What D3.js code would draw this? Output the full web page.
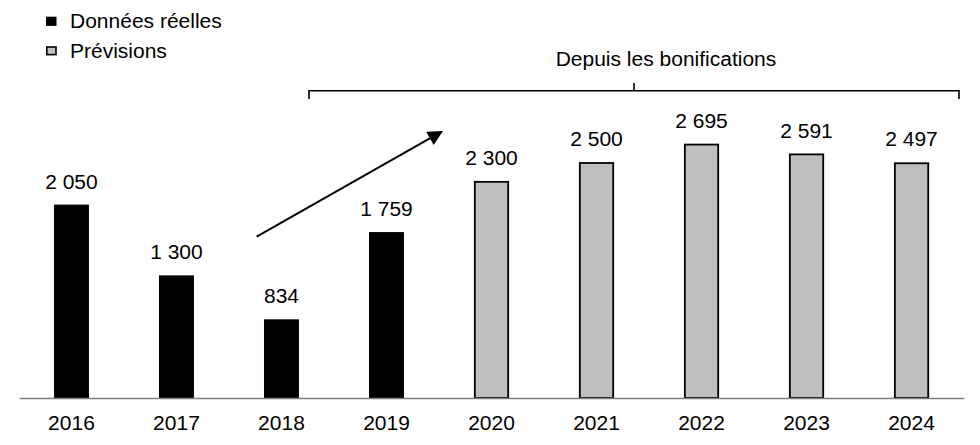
<!DOCTYPE html>
<html>
<head>
<meta charset="utf-8">
<script src="https://cdn.jsdelivr.net/npm/d3@7"></script>
<style>
  html, body { margin: 0; padding: 0; background: #fff; }
  svg text { font-family: "Liberation Sans", Arial, sans-serif; fill: #000; }
</style>
</head>
<body>
<svg id="chart" width="980" height="445"></svg>
<script>
const years = ["2016", "2017", "2018", "2019", "2020", "2021", "2022", "2023", "2024"];
const values = [2050, 1300, 834, 1759, 2300, 2500, 2695, 2591, 2497];
const kinds = ["actual", "actual", "actual", "actual", "forecast", "forecast", "forecast", "forecast", "forecast"];
const valueLabels = ["2 050", "1 300", "834", "1 759", "2 300", "2 500", "2 695", "2 591", "2 497"];
const legendLabels = ["Données réelles", "Prévisions"];
const bracketLabel = "Depuis les bonifications";

const data = years.map((y, i) => ({ year: y, value: values[i], kind: kinds[i], label: valueLabels[i] }));

const svg = d3.select("#chart");
const fontSize = 20;
const stretch = 1.05;

function widen(sel) {
  sel.each(function () {
    const len = this.getComputedTextLength();
    d3.select(this).attr("textLength", len * stretch).attr("lengthAdjust", "spacingAndGlyphs");
  });
}

const x = d3.scaleBand().domain(years).range([19, 964]).paddingInner(0.667).paddingOuter(0.333);
const y = d3.scaleLinear().domain([0, 3000]).range([398, 115]);

const fill = { actual: "#000000", forecast: "#bfbfbf" };

// bars
svg.append("g").selectAll("rect").data(data).join("rect")
  .attr("x", d => x(d.year) + (d.kind === "forecast" ? 0.8 : 0))
  .attr("y", d => y(d.value) + (d.kind === "forecast" ? 0.8 : 0))
  .attr("width", d => x.bandwidth() - (d.kind === "forecast" ? 1.6 : 0))
  .attr("height", d => y(0) - y(d.value) - (d.kind === "forecast" ? 0.8 : 0))
  .attr("fill", d => fill[d.kind])
  .attr("stroke", d => d.kind === "forecast" ? "#000" : "none")
  .attr("stroke-width", 1.8);

// axis
const axis = svg.append("g").attr("transform", `translate(0,${y(0)})`)
  .call(d3.axisBottom(x).tickSize(0).tickPadding(17.5));
axis.select(".domain").attr("stroke", "#808080").attr("stroke-width", 1.3);
axis.selectAll("text").attr("font-size", fontSize).attr("font-family", "Liberation Sans, Arial, sans-serif").attr("fill", "#000")
  .attr("dy", "0.71em").call(widen);

// value labels
svg.append("g").selectAll("text").data(data).join("text")
  .attr("x", d => x(d.year) + x.bandwidth() / 2)
  .attr("y", d => y(d.value) - 16)
  .attr("text-anchor", "middle")
  .attr("font-size", fontSize)
  .text(d => d.label)
  .call(widen);

// legend
const legend = svg.append("g");
legendLabels.forEach((lab, i) => {
  const ly = 28.3 + i * 29.5;
  legend.append("rect")
    .attr("x", i === 0 ? 46 : 46.8).attr("y", ly - 11.6 + (i === 0 ? 0 : 0.8))
    .attr("width", i === 0 ? 10.5 : 9.2).attr("height", i === 0 ? 9.2 : 7.6)
    .attr("fill", i === 0 ? fill.actual : fill.forecast)
    .attr("stroke", i === 0 ? "none" : "#000").attr("stroke-width", 1.6);
  legend.append("text").attr("x", 70).attr("y", ly).attr("font-size", fontSize).text(lab).call(widen);
});

// bracket
svg.append("path")
  .attr("d", "M309,99 L309,90.7 L959,90.7 L959,99 M634,90.7 L634,83")
  .attr("fill", "none").attr("stroke", "#000").attr("stroke-width", 1.6);
svg.append("text").attr("x", 666).attr("y", 66).attr("text-anchor", "middle")
  .attr("font-size", fontSize).text(bracketLabel).call(widen);

// arrow
svg.append("defs").append("marker")
  .attr("id", "ah").attr("viewBox", "0 0 10 10").attr("refX", 9).attr("refY", 5)
  .attr("markerWidth", 18).attr("markerHeight", 15).attr("markerUnits", "userSpaceOnUse")
  .attr("orient", "auto")
  .append("path").attr("d", "M0,0 L10,5 L0,10 Z").attr("fill", "#000");
svg.append("line")
  .attr("x1", 256.7).attr("y1", 236.7).attr("x2", 441.7).attr("y2", 131.7)
  .attr("stroke", "#000").attr("stroke-width", 2)
  .attr("marker-end", "url(#ah)");
</script>
</body>
</html>
